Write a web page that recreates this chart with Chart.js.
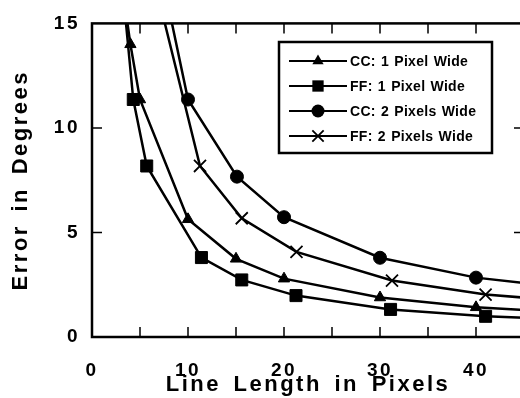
<!DOCTYPE html>
<html>
<head>
<meta charset="utf-8">
<script src="https://cdn.jsdelivr.net/npm/chart.js@4.4.0/dist/chart.umd.min.js"></script>
<style>
    html, body { margin: 0; padding: 0; background: #fff; overflow: hidden; }
    #wrap { width: 528px; height: 398px; }
</style>
</head>
<body>
<div id="wrap"><canvas id="myChart" width="528" height="398"></canvas></div>
<script>
// values
var cc1X = [3, 4, 5, 10, 15, 20, 30, 40, 50];
var cc1Y = [17.3, 14.0, 11.36, 5.63, 3.74, 2.79, 1.89, 1.42, 1.16];
var ff1X = [3, 4.3, 5.7, 11.4, 15.6, 21.25, 31.1, 41, 50];
var ff1Y = [17.6, 11.36, 8.18, 3.8, 2.73, 1.98, 1.32, 0.99, 0.84];
var cc2X = [7, 10, 15.1, 20, 30, 40, 50];
var cc2Y = [17.9, 11.36, 7.67, 5.73, 3.79, 2.84, 2.32];
var ff2X = [7, 11.25, 15.6, 21.3, 31.25, 41, 50];
var ff2Y = [16.1, 8.18, 5.68, 4.07, 2.7, 2.03, 1.7];

var seriesNames = ['CC: 1 Pixel Wide', 'FF: 1 Pixel Wide', 'CC: 2 Pixels Wide', 'FF: 2 Pixels Wide'];
var xTicks = [0, 10, 20, 30, 40];
var xMinorTicks = [5, 10, 15, 20, 25, 30, 35, 40];
var yTicks = [0, 5, 10, 15];
var yMinorTicks = [5, 10];

var xMin = 0, xMax = 45, yMin = 0, yMax = 15;
var FONT = '"Liberation Sans", Arial, sans-serif';

function pairs(xs, ys) {
    return xs.map(function (x, i) { return { x: x, y: ys[i] }; });
}

function radiusFor(r) {
    return function (c) {
        var p = c.raw;
        if (!p || p.x > xMax || p.y > yMax) return 0;
        return r;
    };
}

function makeSet(label, xs, ys, style, r) {
    return {
        label: label,
        data: pairs(xs, ys),
        borderColor: '#000',
        backgroundColor: '#000',
        borderWidth: 2.5,
        pointStyle: style,
        pointRadius: radiusFor(r),
        pointBorderWidth: style === 'crossRot' ? 1.8 : 1,
        pointHoverRadius: radiusFor(r),
        tension: 0
    };
}

function drawMarker(ctx, style, x, y, r) {
    ctx.save();
    ctx.fillStyle = '#000';
    ctx.strokeStyle = '#000';
    ctx.beginPath();
    if (style === 'triangle') {
        ctx.moveTo(x, y - r);
        ctx.lineTo(x + r * 0.866, y + r * 0.5);
        ctx.lineTo(x - r * 0.866, y + r * 0.5);
        ctx.closePath();
        ctx.fill();
    } else if (style === 'rect') {
        var s = r * Math.SQRT1_2;
        ctx.rect(x - s, y - s, 2 * s, 2 * s);
        ctx.fill();
    } else if (style === 'circle') {
        ctx.arc(x, y, r, 0, Math.PI * 2);
        ctx.fill();
    } else {
        var d = r * Math.SQRT1_2;
        ctx.lineWidth = 1.8;
        ctx.moveTo(x - d, y - d); ctx.lineTo(x + d, y + d);
        ctx.moveTo(x - d, y + d); ctx.lineTo(x + d, y - d);
        ctx.stroke();
    }
    ctx.restore();
}

// frame, inward ticks and the boxed legend
var framePlugin = {
    id: 'frame',
    beforeDraw: function (chart) {
        chart.ctx.letterSpacing = '2.5px';
        chart.ctx.wordSpacing = '4px';
    },
    afterDraw: function (chart) {
        var ctx = chart.ctx;
        var a = chart.chartArea;
        var xs = chart.scales.x, ys = chart.scales.y;
        ctx.save();
        ctx.strokeStyle = '#000';
        ctx.lineWidth = 2.5;
        ctx.strokeRect(a.left, a.top, a.right - a.left, a.bottom - a.top);
        ctx.lineWidth = 1.5;
        ctx.beginPath();
        xMinorTicks.forEach(function (v) {
            var px = xs.getPixelForValue(v);
            ctx.moveTo(px, a.bottom); ctx.lineTo(px, a.bottom - 10);
            ctx.moveTo(px, a.top); ctx.lineTo(px, a.top + 10);
        });
        yMinorTicks.forEach(function (v) {
            var py = ys.getPixelForValue(v);
            ctx.moveTo(a.left, py); ctx.lineTo(a.left + 10, py);
            ctx.moveTo(a.right, py); ctx.lineTo(a.right - 10, py);
        });
        ctx.stroke();

        // legend
        var bx = 279, by = 42, bw = 213, bh = 111;
        ctx.fillStyle = '#fff';
        ctx.fillRect(bx, by, bw, bh);
        ctx.lineWidth = 2.5;
        ctx.strokeRect(bx, by, bw, bh);
        var rowsY = [61, 86, 111, 136];
        ctx.letterSpacing = '0.3px';
        ctx.wordSpacing = '1px';
        ctx.font = 'bold 14px ' + FONT;
        ctx.textBaseline = 'middle';
        ctx.textAlign = 'left';
        chart.data.datasets.forEach(function (ds, i) {
            var y = rowsY[i];
            ctx.strokeStyle = '#000';
            ctx.lineWidth = 2;
            ctx.beginPath();
            ctx.moveTo(289, y); ctx.lineTo(347, y);
            ctx.stroke();
            drawMarker(ctx, ds.pointStyle, 318, y, ds.pointStyle === 'rect' || ds.pointStyle === 'crossRot' ? 8 : 6.5);
            ctx.fillStyle = '#000';
            ctx.fillText(ds.label, 350, y + 1);
        });
        ctx.restore();
        ctx.letterSpacing = '0px';
        ctx.wordSpacing = '0px';
    }
};

var ctx = document.getElementById('myChart').getContext('2d');
var chart = new Chart(ctx, {
    type: 'line',
    data: {
        datasets: [
            makeSet(seriesNames[0], cc1X, cc1Y, 'triangle', 6.5),
            makeSet(seriesNames[1], ff1X, ff1Y, 'rect', 8.5),
            makeSet(seriesNames[2], cc2X, cc2Y, 'circle', 6.5),
            makeSet(seriesNames[3], ff2X, ff2Y, 'crossRot', 8.5)
        ]
    },
    options: {
        responsive: false,
        animation: false,
        layout: { padding: { left: 0, top: 20, right: 4, bottom: 0 } },
        plugins: {
            legend: { display: false },
            tooltip: { enabled: false }
        },
        scales: {
            x: {
                type: 'linear',
                min: xMin,
                max: xMax,
                grid: { display: false, drawTicks: false },
                border: { display: false },
                afterBuildTicks: function (scale) {
                    scale.ticks = xTicks.map(function (v) { return { value: v }; });
                },
                afterFit: function (scale) { scale.height = 61; },
                ticks: {
                    color: '#000',
                    padding: 22,
                    maxRotation: 0,
                    font: { family: FONT, size: 19, weight: 'bold' }
                },
                title: {
                    display: true,
                    text: 'Line Length in Pixels',
                    color: '#000',
                    padding: { top: 0, bottom: 0 },
                    font: { family: FONT, size: 22, weight: 'bold' }
                }
            },
            y: {
                type: 'linear',
                min: yMin,
                max: yMax,
                grid: { display: false, drawTicks: false },
                border: { display: false },
                afterBuildTicks: function (scale) {
                    scale.ticks = yTicks.map(function (v) { return { value: v }; });
                },
                afterFit: function (scale) { scale.width = 92; },
                ticks: {
                    color: '#000',
                    padding: 12,
                    font: { family: FONT, size: 19, weight: 'bold' }
                },
                title: {
                    display: true,
                    text: 'Error in Degrees',
                    color: '#000',
                    padding: { top: 8, bottom: 0 },
                    font: { family: FONT, size: 22, weight: 'bold' }
                }
            }
        }
    },
    plugins: [framePlugin]
});
</script>
</body>
</html>
